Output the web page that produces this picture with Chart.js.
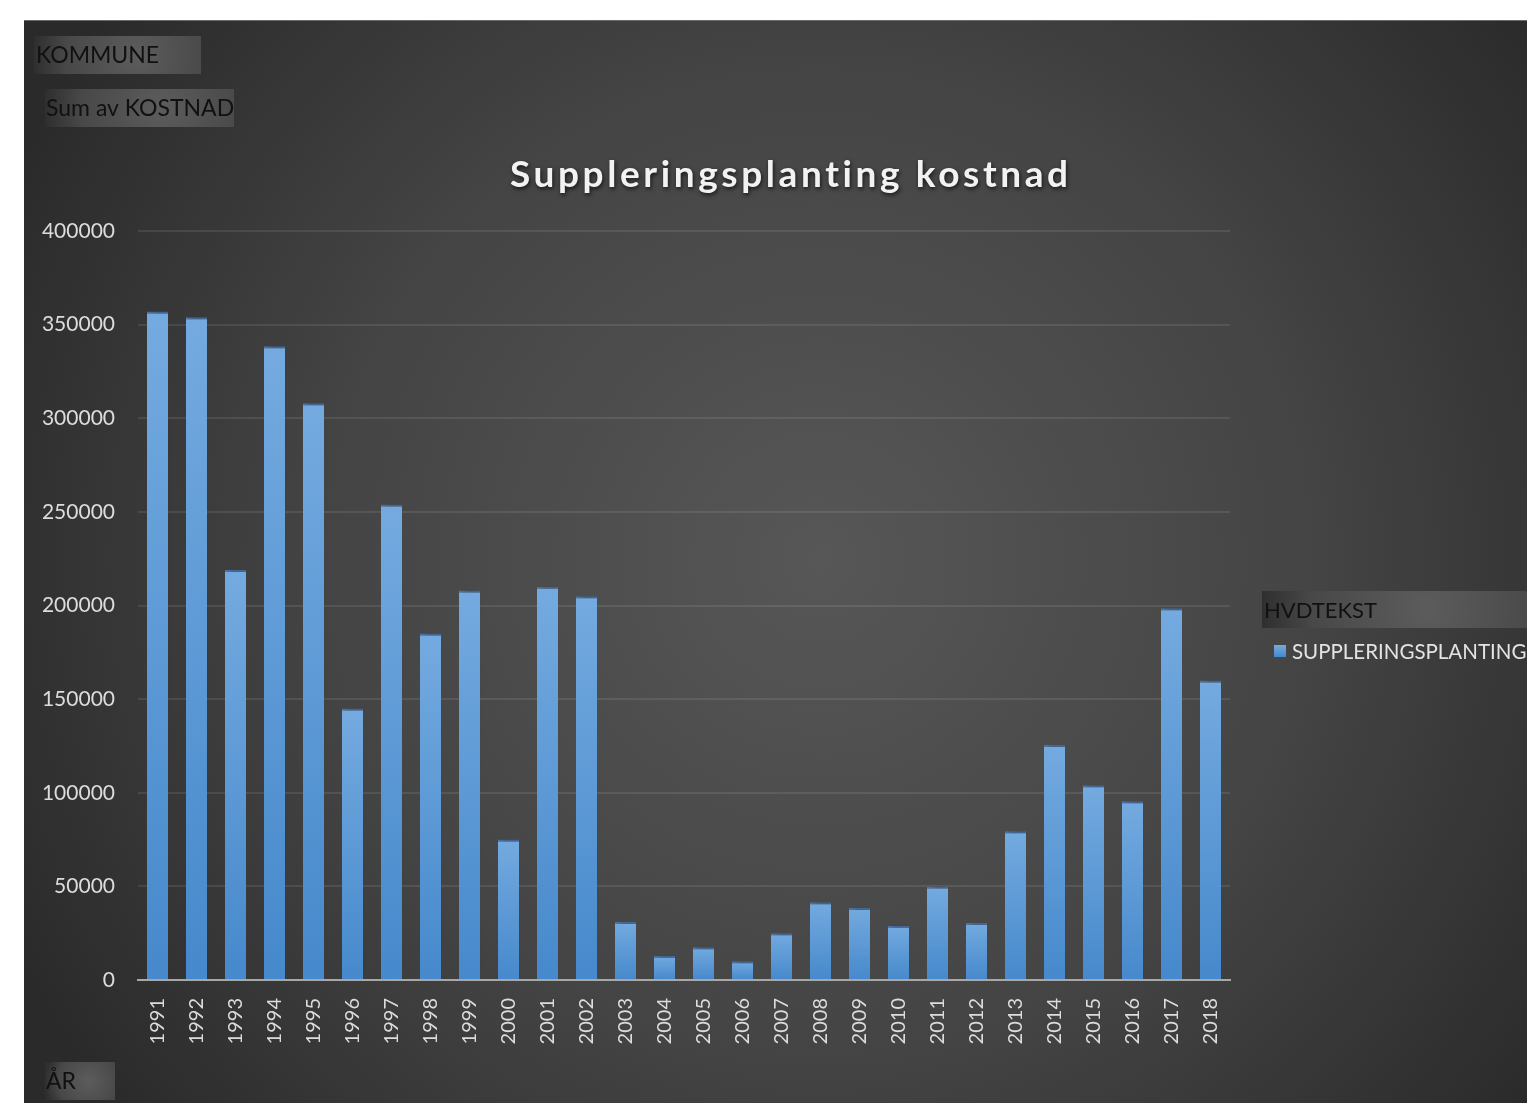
<!DOCTYPE html>
<html>
<head>
<meta charset="utf-8">
<script src="https://cdn.jsdelivr.net/npm/chart.js@4.4.1/dist/chart.umd.min.js"></script>
<style>
  html, body { margin: 0; padding: 0; background: #ffffff; }
  #wrap { width: 1527px; height: 1103px; position: relative; }
  canvas { display: block; }
</style>
</head>
<body>
<div id="wrap"><canvas id="c" width="1527" height="1103"></canvas></div>
<script>
// ---- data ----
const categories = ['1991','1992','1993','1994','1995','1996','1997','1998','1999','2000',
                    '2001','2002','2003','2004','2005','2006','2007','2008','2009','2010',
                    '2011','2012','2013','2014','2015','2016','2017','2018'];
const values = [357000, 354000, 219000, 338500, 308000, 145000, 254000, 185000, 208000, 75000,
                210000, 205000, 31000, 13000, 17500, 10000, 25000, 41500, 38500, 29000,
                50000, 30500, 79500, 125500, 104000, 95500, 198500, 160000];
const seriesName = 'SUPPLERINGSPLANTING';
const chartTitle = 'Suppleringsplanting kostnad';
const yMax = 400000;
const yStep = 50000;
const fieldButtons = [
  { text: 'KOMMUNE' },
  { text: 'Sum av KOSTNAD' },
  { text: 'ÅR' },
  { text: 'HVDTEKST' }
];

const FONT = 'Lato, "Open Sans", "DejaVu Sans", sans-serif';

function barGradient(ctx, yTop, yBase) {
  const g = ctx.createLinearGradient(0, yTop, 0, yBase);
  g.addColorStop(0, '#74aadf');
  g.addColorStop(1, '#4689cc');
  return g;
}

const backgroundPlugin = {
  id: 'panelBg',
  beforeDraw(chart) {
    const ctx = chart.ctx;
    ctx.save();
    ctx.fillStyle = '#ffffff';
    ctx.fillRect(0, 0, chart.width, chart.height);
    const px = 24, py = 20, pw = chart.width - 24, ph = chart.height - 20;
    const g = ctx.createRadialGradient(820, 560, 0, 820, 560, 900);
    g.addColorStop(0, '#575757');
    g.addColorStop(0.55, '#444444');
    g.addColorStop(1, '#2a2a2a');
    ctx.fillStyle = g;
    ctx.fillRect(px, py, pw, ph);
    ctx.fillStyle = '#6a6a6a';
    ctx.fillRect(px, py, pw, 1);
    ctx.restore();
  }
};

function drawButton(ctx, x, y, w, h, text, tx, fontSize) {
  ctx.save();
  const cx = x + w * 0.62, cy = y + h / 2;
  const g = ctx.createRadialGradient(cx, cy, 0, cx, cy, w * 0.62);
  g.addColorStop(0, '#5c5c5c');
  g.addColorStop(0.7, '#484848');
  g.addColorStop(1, '#2f2f2f');
  ctx.fillStyle = g;
  ctx.fillRect(x, y, w, h);
  ctx.fillStyle = '#111111';
  ctx.font = fontSize + 'px ' + FONT;
  ctx.textBaseline = 'middle';
  ctx.textAlign = 'left';
  ctx.fillText(text, tx, cy + 1);
  ctx.restore();
}

const overlayPlugin = {
  id: 'overlay',
  beforeDatasetsDraw(chart) {
    const ctx = chart.ctx;
    ctx.save();
    ctx.shadowColor = 'rgba(0,0,0,0.45)';
    ctx.shadowBlur = 8;
    ctx.shadowOffsetX = 3;
    ctx.shadowOffsetY = 0;
  },
  afterDatasetsDraw(chart) {
    chart.ctx.restore();
  },
  afterDraw(chart) {
    const ctx = chart.ctx;
    // field buttons
    drawButton(ctx, 34, 36, 167, 38, fieldButtons[0].text, 36, 23);
    drawButton(ctx, 45, 89, 189, 38, fieldButtons[1].text, 46, 23);
    drawButton(ctx, 45, 1062, 70, 38, fieldButtons[2].text, 46, 23);
    drawButton(ctx, 1262, 591, 265, 37, fieldButtons[3].text, 1264, 22);

    // title
    ctx.save();
    ctx.font = 'bold 37px ' + FONT;
    ctx.textAlign = 'left';
    ctx.textBaseline = 'alphabetic';
    ctx.fillStyle = '#f2f2f2';
    ctx.shadowColor = 'rgba(0,0,0,0.7)';
    ctx.shadowBlur = 4;
    ctx.shadowOffsetX = 1;
    ctx.shadowOffsetY = 2;
    const sp = 3.6;
    try { ctx.letterSpacing = sp + 'px'; } catch (e) {}
    const t = chart.options.plugins.customTitle.text;
    const w = ctx.measureText(t).width - sp;
    ctx.fillText(t, 789 - w / 2, 187);
    ctx.restore();

    // legend
    const ds = chart.data.datasets[0];
    ctx.save();
    const bx = 1274, by = 645, bs = 12;
    ctx.fillStyle = barGradient(ctx, by, by + bs);
    ctx.fillRect(bx, by, bs, bs);
    ctx.font = '20.5px ' + FONT;
    ctx.fillStyle = '#e3e3e3';
    ctx.textBaseline = 'middle';
    ctx.textAlign = 'left';
    ctx.fillText(ds.label, 1292, 652);
    ctx.restore();
  }
};

const ctx = document.getElementById('c').getContext('2d');
new Chart(ctx, {
  type: 'bar',
  data: {
    labels: categories,
    datasets: [{
      label: seriesName,
      data: values,
      backgroundColor: (c) => {
        const chart = c.chart;
        if (!chart.chartArea || c.raw === undefined) return '#5b9bd5';
        const ys = chart.scales.y;
        return barGradient(chart.ctx, ys.getPixelForValue(c.raw), ys.getPixelForValue(0));
      },
      borderColor: '#4f7cb0',
      borderWidth: { top: 2, left: 0, right: 0, bottom: 0 },
      borderSkipped: 'bottom',
      barPercentage: 0.54,
      categoryPercentage: 1.0
    }]
  },
  options: {
    responsive: false,
    animation: false,
    layout: { padding: { top: 231, right: 297, bottom: 0, left: 0 } },
    plugins: {
      legend: { display: false },
      title: { display: false },
      tooltip: { enabled: false },
      customTitle: { text: chartTitle }
    },
    scales: {
      x: {
        grid: { display: false },
        border: { display: true, color: '#a8a8a8', width: 2 },
        ticks: {
          color: '#dcdcdc',
          font: { family: FONT, size: 20 },
          minRotation: 90,
          maxRotation: 90,
          padding: 10,
          autoSkip: false
        },
        afterFit(s) { s.height = 123; }
      },
      y: {
        min: 0,
        max: yMax,
        grid: { color: 'rgba(255,255,255,0.09)', lineWidth: 2, drawTicks: false },
        border: { display: false },
        ticks: {
          stepSize: yStep,
          color: '#dcdcdc',
          font: { family: FONT, size: 21 },
          padding: 23,
          callback: (v) => String(v)
        },
        afterFit(s) { s.width = 138; }
      }
    }
  },
  plugins: [backgroundPlugin, overlayPlugin]
});
</script>
</body>
</html>
